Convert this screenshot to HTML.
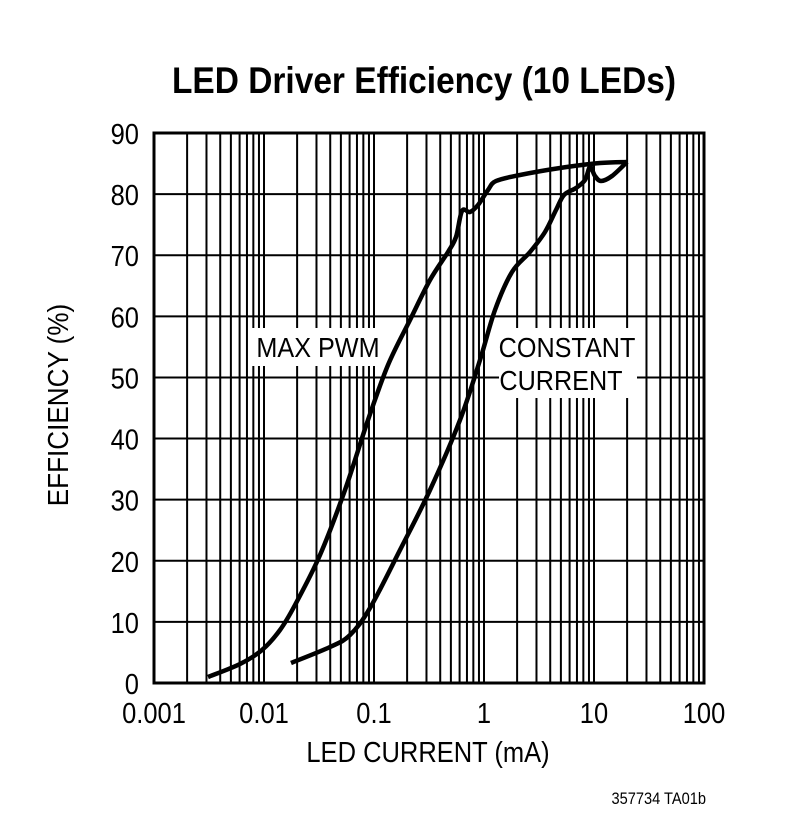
<!DOCTYPE html>
<html><head><style>
body{margin:0;background:#fff}
svg text{font-family:"Liberation Sans",sans-serif}
</style></head><body>
<svg width="787" height="820" viewBox="0 0 787 820" xmlns="http://www.w3.org/2000/svg">
<rect width="787" height="820" fill="#fff"/>
<text x="424" y="93" text-anchor="middle" font-size="37" font-weight="bold" transform="translate(424,0) scale(0.905,1) translate(-424,0)">LED Driver Efficiency (10 LEDs)</text>
<g stroke="#000" stroke-width="2" fill="none" id="grid"></g>
<g font-size="29" text-anchor="end" id="yl"></g>
<g font-size="29" text-anchor="middle" id="xl"></g>
<rect x="252" y="328" width="132" height="38" fill="#fff"/>
<rect x="499" y="328" width="138" height="70" fill="#fff"/>
<g font-size="28">
<text x="318" y="357" text-anchor="middle" transform="translate(318,0) scale(0.9,1) translate(-318,0)">MAX PWM</text>
<text x="567" y="357" text-anchor="middle" transform="translate(567,0) scale(0.9,1) translate(-567,0)">CONSTANT</text>
<text x="561" y="390" text-anchor="middle" transform="translate(561,0) scale(0.9,1) translate(-561,0)">CURRENT</text>
</g>
<path id="c1" stroke="#000" stroke-width="4.5" fill="none"/>
<path id="c2" stroke="#000" stroke-width="4.5" fill="none"/>
<text x="428" y="762" font-size="29" text-anchor="middle" transform="translate(428,0) scale(0.88,1) translate(-428,0)">LED CURRENT (mA)</text>
<text x="68" y="405" font-size="29" text-anchor="middle" transform="translate(68,405) rotate(-90) scale(0.9,1) translate(-68,-405)">EFFICIENCY (%)</text>
<text x="706" y="804" font-size="17" text-anchor="end" transform="translate(706,0) scale(0.86,1) translate(-706,0)">357734 TA01b</text>
</svg>
<script>
var ns="http://www.w3.org/2000/svg",g=document.getElementById('grid'),L=154,R=704,T=133,B=683;
function ln(x1,y1,x2,y2,w){var l=document.createElementNS(ns,'line');l.setAttribute('x1',x1);l.setAttribute('y1',y1);l.setAttribute('x2',x2);l.setAttribute('y2',y2);if(w)l.setAttribute('stroke-width',w);g.appendChild(l);}
for(var d=0;d<5;d++)for(var k=2;k<=9;k++){var x=L+110*d+110*Math.log10(k);ln(x,T,x,B);}
for(var d=1;d<5;d++){ln(L+110*d,T,L+110*d,B);}
for(var i=1;i<9;i++){var y=B-i*61.11;ln(L,y,R,y);}
var r=document.createElementNS(ns,'rect');r.setAttribute('x',L);r.setAttribute('y',T);r.setAttribute('width',R-L);r.setAttribute('height',B-T);r.setAttribute('stroke-width',3);g.appendChild(r);
var yl=document.getElementById('yl');
for(var i=0;i<=9;i++){var t=document.createElementNS(ns,'text');t.setAttribute('x',139);t.setAttribute('y',B-i*61.11+11);t.setAttribute('transform','translate(139,0) scale(0.88,1) translate(-139,0)');t.textContent=i*10;yl.appendChild(t);}
var xl=document.getElementById('xl'),lab=['0.001','0.01','0.1','1','10','100'];
for(var i=0;i<6;i++){var x=L+110*i,t=document.createElementNS(ns,'text');t.setAttribute('x',x);t.setAttribute('y',723);t.setAttribute('transform','translate('+x+',0) scale(0.88,1) translate('+(-x)+',0)');t.textContent=lab[i];xl.appendChild(t);}
function cr(p){var d='M'+p[0][0]+','+p[0][1];for(var i=0;i<p.length-1;i++){var p0=p[i-1]||p[i],p1=p[i],p2=p[i+1],p3=p[i+2]||p2;d+=' C'+(p1[0]+(p2[0]-p0[0])/6)+','+(p1[1]+(p2[1]-p0[1])/6)+' '+(p2[0]-(p3[0]-p1[0])/6)+','+(p2[1]-(p3[1]-p1[1])/6)+' '+p2[0]+','+p2[1];}return d;}
document.getElementById('c1').setAttribute('d',cr([[208,677],[240,664],[262,650],[280,630],[295,605],[320,555],[345,490],[368,420],[388,365],[410,320],[430,280],[448,252],[456,237],[462,211],[470,212],[478,205],[488,190],[496,181],[520,175],[560,168],[600,163],[627,162]]));
document.getElementById('c2').setAttribute('d',cr([[291,663],[330,647],[350,635],[370,608],[400,550],[430,490],[460,420],[480,360],[495,310],[512,272],[530,252],[545,232],[556,210],[564,195],[576,188],[585,180],[590,167],[595,176],[601,181],[612,176],[627,162]]));
</script>
</body></html>
